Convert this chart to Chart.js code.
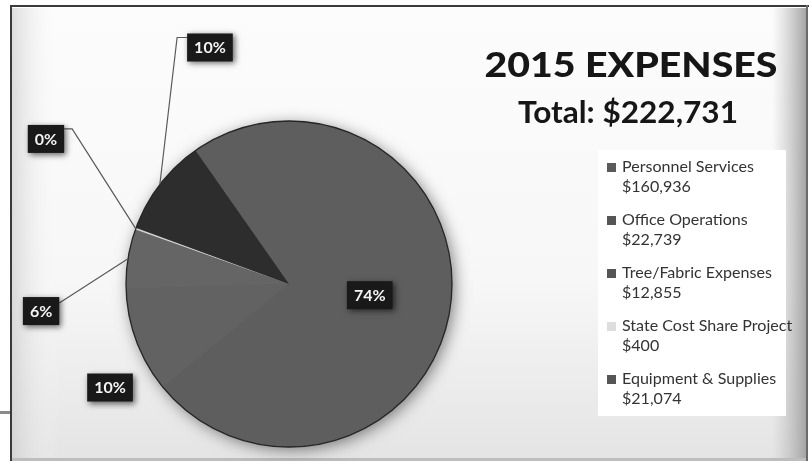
<!DOCTYPE html>
<html><head><meta charset="utf-8">
<script src="https://cdn.jsdelivr.net/npm/chart.js@4.4.1/dist/chart.umd.min.js"></script>
<style>html,body{margin:0;padding:0;background:#fff;overflow:hidden}#wrap{position:relative;width:812px;height:461px}</style>
</head><body><div id="wrap"><canvas id="c" width="812" height="461"></canvas></div>
<script>
// ---- data ----
const categories = ['Personnel Services', 'Office Operations', 'Tree/Fabric Expenses', 'State Cost Share Project', 'Equipment & Supplies'];
const amounts = [160936, 22739, 12855, 400, 21074];
const amountLabels = ['$160,936', '$22,739', '$12,855', '$400', '$21,074'];
const percentLabels = ['74%', '10%', '6%', '0%', '10%'];
const titleText = '2015 EXPENSES';
const subtitleText = 'Total: $222,731';

// ---- styles / layout (not data) ----
const sliceColors = ['#5e5e5e', '#626262', '#656565', '#d0d0d0', '#2d2d2d'];
const markerColors = ['#5a5a5a', '#555555', '#555555', '#dddddd', '#555555'];
// label box centres relative to pie centre, in units of radius; null = arc centroid
const labelPlace = [null, [-1.098, 0.635], [-1.521, 0.166], [-1.491, -0.890], [-0.485, -1.451]];
const leaderStyle = [null, null, 'right', 'rightElbow', 'leftElbow'];

function fitText(ctx, text, x, baseline, font, targetW, align) {
  ctx.font = font;
  const w = ctx.measureText(text).width;
  const s = targetW / w;
  ctx.save();
  ctx.translate(x, baseline);
  ctx.scale(s, 1);
  ctx.textAlign = align || 'center';
  ctx.fillText(text, 0, 0);
  ctx.restore();
}

const decor = {
  id: 'decor',
  beforeDraw(chart) {
    const ctx = chart.ctx;
    ctx.save();
    ctx.fillStyle = '#ffffff';
    ctx.fillRect(0, 0, 812, 461);
    let g = ctx.createLinearGradient(0, 8, 0, 460);
    g.addColorStop(0, '#fcfcfc');
    g.addColorStop(0.6, '#f7f7f7');
    g.addColorStop(1, '#e4e4e4');
    ctx.fillStyle = g;
    ctx.fillRect(12, 8, 794, 452);
    let gl = ctx.createLinearGradient(12, 0, 60, 0);
    gl.addColorStop(0, 'rgba(200,200,200,0.6)');
    gl.addColorStop(1, 'rgba(255,255,255,0)');
    ctx.fillStyle = gl;
    ctx.fillRect(12, 8, 48, 452);
    let gr = ctx.createLinearGradient(772, 0, 806, 0);
    gr.addColorStop(0, 'rgba(190,190,190,0)');
    gr.addColorStop(1, 'rgba(165,165,165,1)');
    ctx.fillStyle = gr;
    ctx.fillRect(772, 8, 34, 452);
    ctx.fillStyle = '#ffffff';
    ctx.fillRect(598, 150, 188, 266);
    // frame lines
    ctx.fillStyle = '#3a3a3a';
    ctx.fillRect(10, 5, 799, 2);
    ctx.fillRect(10, 5, 2, 456);
    ctx.fillStyle = '#6a6a6a';
    ctx.fillRect(806, 5, 2, 456);
    ctx.fillStyle = '#bdbdbd';
    ctx.fillRect(12, 458, 794, 3);
    ctx.fillStyle = '#8a8a8a';
    ctx.fillRect(0, 411, 10, 3);
    // titles
    ctx.fillStyle = '#161616';
    ctx.textBaseline = 'alphabetic';
    fitText(ctx, titleText, 631, 77, '900 35px Lato', 293);
    fitText(ctx, subtitleText, 628, 123, 'bold 30px Lato', 220);
    // legend
    ctx.textBaseline = 'middle';
    categories.forEach((name, i) => {
      const y = 167 + i * 53;
      ctx.fillStyle = markerColors[i];
      ctx.fillRect(607, y - 4, 9, 9);
      ctx.fillStyle = '#333333';
      const f = '15px Lato';
      ctx.font = f;
      const w1 = ctx.measureText(name).width;
      fitText(ctx, name, 622, y, f, w1 * 1.07, 'left');
      const w2 = ctx.measureText(amountLabels[i]).width;
      fitText(ctx, amountLabels[i], 622, y + 20.5, f, w2 * 1.07, 'left');
    });
    ctx.restore();
  },
  beforeDatasetsDraw(chart) {
    const arc = chart.getDatasetMeta(0).data[0];
    if (!arc) return;
    const ctx = chart.ctx;
    ctx.save();
    ctx.shadowColor = 'rgba(0,0,0,0.5)';
    ctx.shadowBlur = 16;
    ctx.shadowOffsetX = 3;
    ctx.shadowOffsetY = 3;
    ctx.fillStyle = '#5e5e5e';
    ctx.beginPath();
    ctx.arc(arc.x, arc.y, arc.outerRadius - 0.5, 0, Math.PI * 2);
    ctx.fill();
    ctx.restore();
  },
  afterDatasetsDraw(chart) {
    const meta = chart.getDatasetMeta(0);
    const ctx = chart.ctx;
    const a0 = meta.data[0];
    const cx = a0.x, cy = a0.y, R = a0.outerRadius;
    ctx.save();
    ctx.strokeStyle = '#262626';
    ctx.lineWidth = 1.3;
    ctx.beginPath();
    ctx.arc(cx, cy, R, 0, Math.PI * 2);
    ctx.stroke();
    ctx.font = 'bold 16px Lato';
    meta.data.forEach((arc, i) => {
      const txt = percentLabels[i];
      let bx, by;
      if (labelPlace[i] === null) {
        const p = arc.tooltipPosition();
        bx = p.x; by = p.y;
      } else {
        bx = cx + labelPlace[i][0] * R;
        by = cy + labelPlace[i][1] * R;
      }
      const tw = ctx.measureText(txt).width;
      const w = tw + 14, h = 28;
      const left = bx - w / 2, top = by - h / 2;
      const mid = (arc.startAngle + arc.endAngle) / 2;
      const ex = cx + Math.cos(mid) * R, ey = cy + Math.sin(mid) * R;
      ctx.strokeStyle = '#5a5a5a';
      ctx.lineWidth = 1.2;
      if (leaderStyle[i] === 'right') {
        ctx.beginPath(); ctx.moveTo(left + w, top + 6); ctx.lineTo(ex, ey); ctx.stroke();
      } else if (leaderStyle[i] === 'rightElbow') {
        ctx.beginPath(); ctx.moveTo(left + w, top + 4); ctx.lineTo(left + w + 8, top + 4); ctx.lineTo(ex, ey); ctx.stroke();
      } else if (leaderStyle[i] === 'leftElbow') {
        ctx.beginPath(); ctx.moveTo(left, top + 4); ctx.lineTo(left - 10, top + 4); ctx.lineTo(ex, ey); ctx.stroke();
      }
      ctx.save();
      ctx.shadowColor = 'rgba(0,0,0,0.6)';
      ctx.shadowBlur = 6;
      ctx.shadowOffsetX = 2;
      ctx.shadowOffsetY = 2;
      ctx.fillStyle = '#191919';
      ctx.fillRect(left, top, w, h);
      ctx.restore();
      ctx.fillStyle = '#f4f4f4';
      ctx.textAlign = 'center';
      ctx.textBaseline = 'middle';
      ctx.fillText(txt, bx, by + 0.5);
    });
    ctx.restore();
  }
};

new Chart(document.getElementById('c'), {
  type: 'pie',
  data: {
    labels: categories,
    datasets: [{
      data: amounts,
      backgroundColor: sliceColors,
      borderWidth: 0,
      hoverBorderWidth: 0,
      offset: 0,
      hoverOffset: 0
    }]
  },
  options: {
    responsive: false,
    devicePixelRatio: 1,
    animation: false,
    rotation: -35,
    layout: { padding: { left: 126, right: 360, top: 121, bottom: 14 } },
    events: [],
    plugins: {
      legend: { display: false },
      title: { display: false },
      tooltip: { enabled: false }
    }
  },
  plugins: [decor]
});
</script>
</body></html>
